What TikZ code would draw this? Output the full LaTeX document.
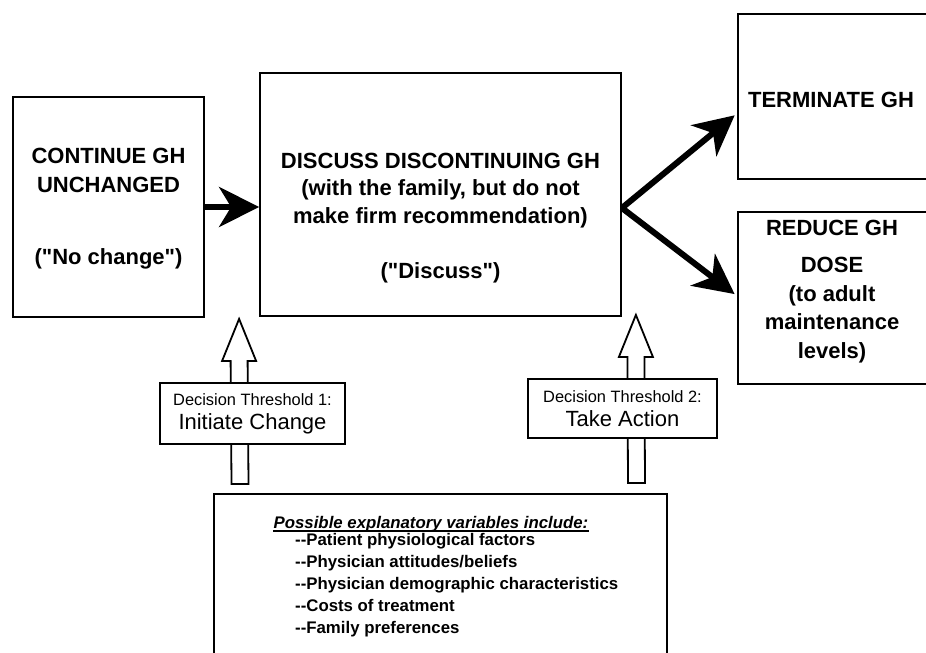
\documentclass[tikz,border=0pt]{standalone}
\usepackage{fontspec}
\setmainfont{Liberation Sans}[Ligatures=TeXOff]
\usetikzlibrary{arrows.meta,calc}
\newcommand\dd{\mbox{-}\mbox{-}}
\newcommand\hollowup[2]{%
  \draw[hollowarrow] (#1) -- ($(#1)+(17,42)$) -- ($(#1)+(8.5,42)$) -- ($(#2)+(8.5,0)$)
    -- ($(#2)+(-8.5,0)$) -- ($(#1)+(-8.5,42)$) -- ($(#1)+(-17,42)$) -- cycle;}
\begin{document}
\begin{tikzpicture}[x=1pt,y=-1pt,
  bigbox/.style={draw, line width=1.8pt, inner sep=0pt},
  bigtxt/.style={font=\bfseries\fontsize{22}{28.5}\selectfont, align=center, inner sep=0pt},
  thr/.style={draw, line width=1.3pt, fill=white, inner sep=0pt, align=center,
    font=\fontsize{22}{24}\selectfont},
  fat/.style={line width=6pt, -{Stealth[length=40pt,width=40pt,inset=12pt]}},
  hollowarrow/.style={draw, line width=1.8pt, fill=white, line join=miter}]
\useasboundingbox (0,0) rectangle (926,653);
\clip (0,0) rectangle (926,653);
\fill[white] (0,0) rectangle (926,653);
% main boxes
\node[bigbox, minimum width=191pt, minimum height=220pt] (b1) at (108.5,207) {};
\node[bigbox, minimum width=361pt, minimum height=243pt] (b2) at (440.5,194.5) {};
\node[bigbox, minimum width=200pt, minimum height=165pt, anchor=north west] (b3) at (737,13) {};
\node[bigbox, minimum width=200pt, minimum height=172pt, anchor=north west] (b4) at (737,211) {};
% texts
\node[bigtxt] (t1) at (108.5,209) {CONTINUE GH\\UNCHANGED\\[44pt]("No change")};
\node[bigtxt, font=\bfseries\fontsize{22}{27.5}\selectfont] (t2) at (440.5,218)
  {DISCUSS DISCONTINUING GH\\(with the family, but do not\\make firm recommendation)\\[27.5pt]("Discuss")};
\node[bigtxt] (t3) at (831,100) {TERMINATE GH};
\node[bigtxt, font=\bfseries\fontsize{22}{28.7}\selectfont] (t4) at (832,291.5)
  {REDUCE GH\\[8.3pt]DOSE\\(to adult\\maintenance\\levels)};
% black arrows
\coordinate (fork) at ($(b2.east)+(0,13.5)$);
\draw[fat] (b1.east) -- (b1.east -| b2.west);
\draw[fat, shorten >=3pt] (fork) -- ([yshift=-17pt]b3.west);
\draw[fat, shorten >=3pt] (fork) -- ([yshift=2pt]b4.west);
% bottom box
\node[draw, line width=1.5pt, minimum width=453pt, minimum height=175pt, anchor=north west, inner sep=0pt] (vars) at (213,493) {};
\node[inner sep=0pt, font=\bfseries\itshape\fontsize{16.8}{22}\selectfont, anchor=base] (hd) at (431,528) {Possible explanatory variables include:};
\draw[line width=1.2pt] ([yshift=-3pt]hd.base west) -- ([yshift=-3pt]hd.base east);
\node[inner sep=0pt, font=\bfseries\fontsize{16.8}{22}\selectfont, align=left, anchor=west] (lst) at (295,585)
  {\dd Patient physiological factors\\\dd Physician attitudes/beliefs\\\dd Physician demographic characteristics\\\dd Costs of treatment\\\dd Family preferences};
% hollow arrows
\coordinate (tipA) at ($(b2.south west)+(-20,2)$);
\coordinate (tailA) at ($(vars.north west)+(27,-9)$);
\coordinate (tipB) at ($(b2.south east)+(14,-2)$);
\coordinate (tailB) at ($(vars.north east)+(-31,-10)$);
\hollowup{tipA}{tailA}
\hollowup{tipB}{tailB}
% threshold boxes
\node[thr, minimum width=185pt, minimum height=61pt] (th1) at (252.5,413.5)
  {{\fontsize{16.4}{24}\selectfont Decision Threshold 1:}\\Initiate Change};
\node[thr, minimum width=189pt, minimum height=59pt] (th2) at (622.5,408.5)
  {{\fontsize{16.4}{24}\selectfont Decision Threshold 2:}\\Take Action};
\end{tikzpicture}
\end{document}
